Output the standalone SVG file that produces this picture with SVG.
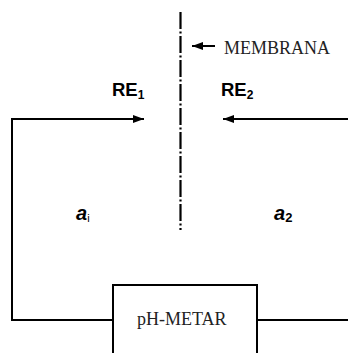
<svg xmlns="http://www.w3.org/2000/svg" width="348" height="353" viewBox="0 0 348 353">
<style>
.ln{stroke:#000;stroke-width:2;fill:none}
.serif{font-family:"Liberation Serif","Times New Roman",serif;fill:#222}
.sans{font-family:"Liberation Sans",Arial,sans-serif;font-weight:bold;fill:#000}
</style>
<defs>
<marker id="ah" viewBox="0 0 11 8" refX="11" refY="4" markerWidth="11" markerHeight="8" markerUnits="userSpaceOnUse" orient="auto">
<path d="M0,0 L11,4 L0,8 Z" fill="#000"/>
</marker>
</defs>
<rect width="348" height="353" fill="#fff"/>
<g id="membrane">
<line x1="180.5" y1="12" x2="180.5" y2="230" stroke="#000" stroke-width="2.2" stroke-dasharray="17,2.5,2,2.5"/>
<line x1="215" y1="46" x2="192" y2="46" class="ln" marker-end="url(#ah)"/>
<text x="224" y="54" class="serif" font-size="18.5" textLength="106" lengthAdjust="spacingAndGlyphs">MEMBRANA</text>
</g>
<g id="re1">
<text x="112" y="96" class="sans" font-size="18.5">RE<tspan font-size="12" dy="3">1</tspan></text>
</g>
<g id="re2">
<text x="221" y="96" class="sans" font-size="18.5">RE<tspan font-size="12" dy="3">2</tspan></text>
</g>
<g id="a1">
<text x="76" y="220" class="sans" font-size="20" font-style="italic">a<tspan font-size="11" dy="2" font-style="normal" font-weight="normal">i</tspan></text>
</g>
<g id="a2">
<text x="274" y="220" class="sans" font-size="20" font-style="italic">a<tspan font-size="13" dy="2" font-style="normal">2</tspan></text>
</g>
<g id="phmetar">
<rect x="113" y="285" width="144" height="80" class="ln"/>
<text x="137" y="325" class="serif" font-size="18">pH-METAR</text>
</g>
<g id="connectors">
<path d="M113,320 H12 V119 H144" class="ln" marker-end="url(#ah)"/>
<path d="M257,320 H348" class="ln"/>
<path d="M348,119 H223" class="ln" marker-end="url(#ah)"/>
</g>
</svg>
